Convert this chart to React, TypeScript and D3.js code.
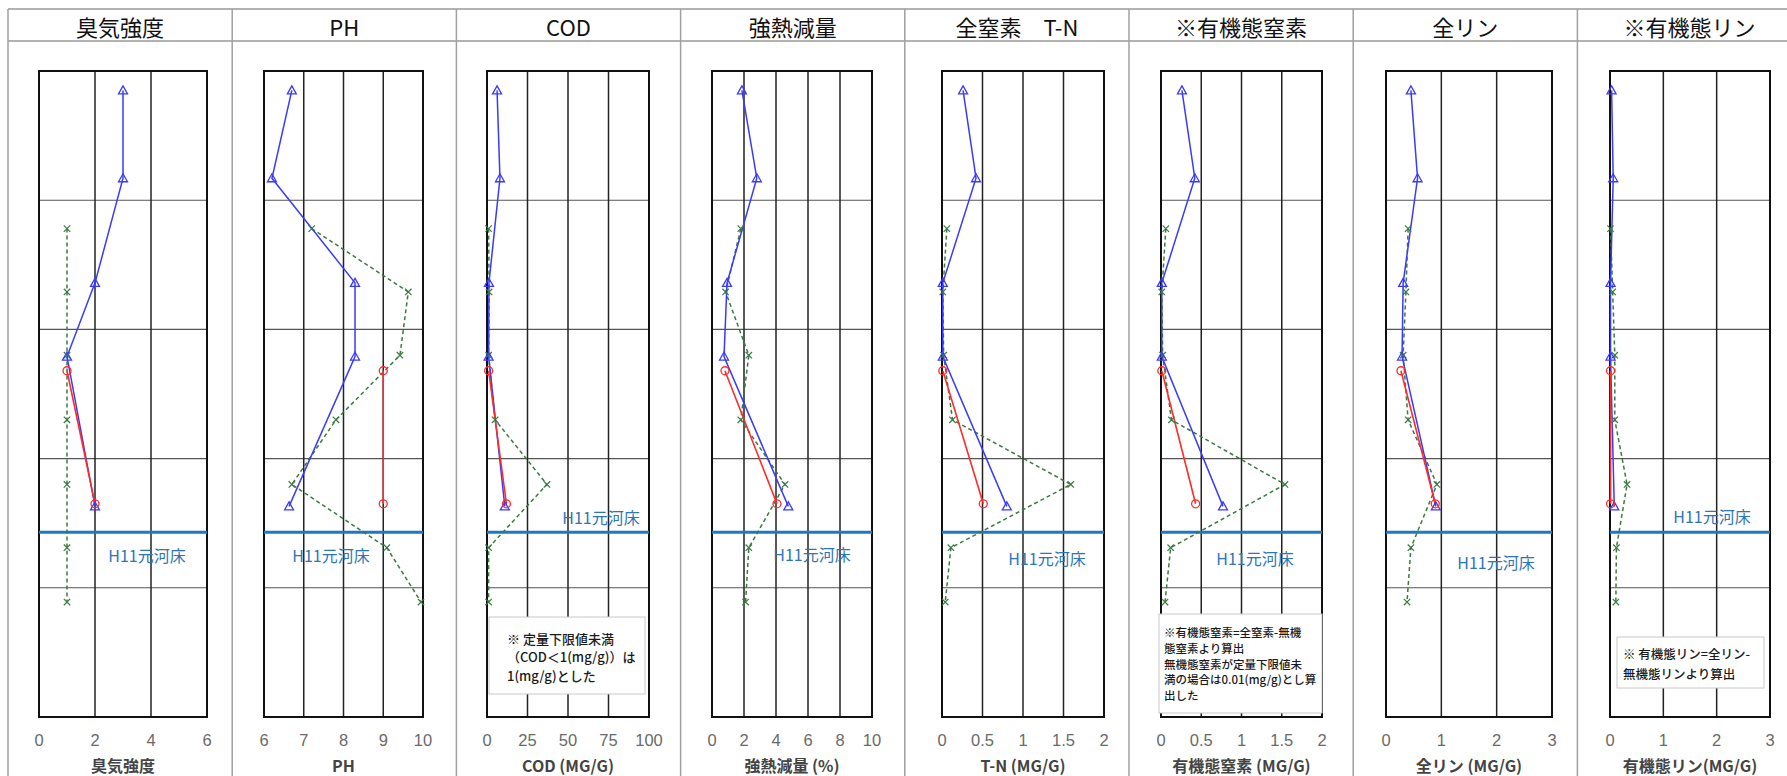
import React from 'react';
import * as d3 from 'd3';

const W = 1787;
const H = 776;

// depth levels (arbitrary depth units, 0 = top of plot)
const depthBlue = [0.15, 0.83, 1.64, 2.21, 3.37];
const depthRed = [2.32, 3.35];
const depthGreen = [1.22, 1.71, 2.2, 2.7, 3.2, 3.69, 4.11];
const depthRiverbed = 3.57;
const depthGrid = [1, 2, 3, 4];

const panelTitles = ['臭気強度', 'PH', 'COD', '強熱減量', '全窒素　T-N', '※有機態窒素', '全リン', '※有機態リン'];
const axisTitles = ['臭気強度', 'PH', 'COD (MG/G)', '強熱減量 (%)', 'T-N (MG/G)', '有機態窒素 (MG/G)', '全リン (MG/G)', '有機態リン(MG/G)'];
const xTicks = [
  [0, 2, 4, 6],
  [6, 7, 8, 9, 10],
  [0, 25, 50, 75, 100],
  [0, 2, 4, 6, 8, 10],
  [0, 0.5, 1, 1.5, 2],
  [0, 0.5, 1, 1.5, 2],
  [0, 1, 2, 3],
  [0, 1, 2, 3],
];

const odorBlue = [3, 3, 2, 1, 2];
const odorRed = [1, 2];
const odorGreen = [1, 1, 1, 1, 1, 1, 1];
const phBlue = [6.7, 6.2, 8.29, 8.29, 6.63];
const phRed = [9.0, 9.0];
const phGreen = [7.2, 9.63, 9.42, 7.81, 6.7, 9.09, 9.95];
const codBlue = [6.2, 8.0, 1.2, 1, 11];
const codRed = [1, 12];
const codGreen = [1, 1.3, 1, 5, 37, 1, 1];
const ignBlue = [1.87, 2.8, 0.94, 0.75, 4.77];
const ignRed = [0.81, 4.06];
const ignGreen = [1.8, 0.85, 2.3, 1.8, 4.56, 2.3, 2.1];
const tnBlue = [0.26, 0.42, 0.01, 0.01, 0.8];
const tnRed = [0.01, 0.51];
const tnGreen = [0.06, 0.01, 0.02, 0.13, 1.59, 0.11, 0.04];
const onBlue = [0.26, 0.42, 0.01, 0.01, 0.77];
const onRed = [0.01, 0.43];
const onGreen = [0.06, 0.01, 0.02, 0.13, 1.54, 0.12, 0.05];
const tpBlue = [0.45, 0.57, 0.31, 0.29, 0.9];
const tpRed = [0.27, 0.89];
const tpGreen = [0.4, 0.36, 0.31, 0.4, 0.92, 0.45, 0.38];
const opBlue = [0.03, 0.06, 0.01, 0.01, 0.08];
const opRed = [0.01, 0.01];
const opGreen = [0.01, 0.05, 0.09, 0.09, 0.32, 0.12, 0.11];

const riverbedLabel = 'H11元河床';
const codNote = ['※ 定量下限値未満', '（COD＜1(mg/g)）は', '1(mg/g)とした'];
const onNote = ['※有機態窒素=全窒素-無機', '態窒素より算出', '無機態窒素が定量下限値未', '満の場合は0.01(mg/g)とし算', '出した'];
const opNote = ['※ 有機態リン=全リン-', '無機態リンより算出'];

const seriesBlue = [odorBlue, phBlue, codBlue, ignBlue, tnBlue, onBlue, tpBlue, opBlue];
const seriesRed = [odorRed, phRed, codRed, ignRed, tnRed, onRed, tpRed, opRed];
const seriesGreen = [odorGreen, phGreen, codGreen, ignGreen, tnGreen, onGreen, tpGreen, opGreen];
const notes: (string[] | null)[] = [null, null, codNote, null, null, onNote, null, opNote];

// layout
const panelX0 = 8;
const panelW = 224.2;
const headerTop = 9;
const headerBottom = 41;
const plotTop = 71;
const plotBottom = 717;
const plotX = [
  [39, 207],
  [264, 423],
  [487, 649],
  [712, 872],
  [942, 1104],
  [1161, 1322],
  [1386, 1552],
  [1610, 1770],
];
const labelPos = [
  [147, 555], [331, 555], [601, 517], [812, 554], [1047, 558], [1255, 558], [1496, 562], [1712, 516],
];
const noteBox = [
  null, null,
  { x: 489, y: 617, w: 156, h: 77, tx: 507, ty: 638, dy: 18.5, fs: 13 },
  null, null,
  { x: 1159, y: 614, w: 163, h: 99, tx: 1164, ty: 632, dy: 15.8, fs: 11.5 },
  null,
  { x: 1617, y: 637, w: 147, h: 51, tx: 1623, ty: 653, dy: 20, fs: 12.5 },
];

const BLUE = '#3a3aff';
const RED = '#ff2a2a';
const GREEN = '#3a7a40';
const RIVER = '#1f77c8';
const JP = '"Noto Sans CJK JP", "Noto Sans", sans-serif';

const yScale = d3.scaleLinear().domain([0, 5]).range([plotTop, plotBottom]);

function Triangle({ x, y }: { x: number; y: number }) {
  return <path d={`M${x},${y - 4.5}L${x + 4.5},${y + 3.5}L${x - 4.5},${y + 3.5}Z`} fill="none" stroke={BLUE} strokeWidth={1.3} />;
}
function Circle({ x, y }: { x: number; y: number }) {
  return <circle cx={x} cy={y} r={4} fill="none" stroke={RED} strokeWidth={1.3} />;
}
function Cross({ x, y }: { x: number; y: number }) {
  const s = 3.2;
  return <path d={`M${x - s},${y - s}L${x + s},${y + s}M${x - s},${y + s}L${x + s},${y - s}`} stroke={GREEN} strokeWidth={1.2} />;
}

function Panel({ i }: { i: number }) {
  const ticks = xTicks[i];
  const [x0, x1] = plotX[i];
  const x = d3.scaleLinear().domain([ticks[0], ticks[ticks.length - 1]]).range([x0, x1]);
  const line = d3.line<[number, number]>().x((d) => x(d[0])).y((d) => yScale(d[1]));
  const blue: [number, number][] = seriesBlue[i].map((v, k) => [v, depthBlue[k]]);
  const red: [number, number][] = seriesRed[i].map((v, k) => [v, depthRed[k]]);
  const green: [number, number][] = seriesGreen[i].map((v, k) => [v, depthGreen[k]]);
  const pLeft = panelX0 + i * panelW;
  const cx = pLeft + panelW / 2;
  const nb = noteBox[i];
  const nt = notes[i];
  const fmt = (v: number) => String(v);
  return (
    <g>
      {/* header title */}
      <text x={cx} y={(headerTop + headerBottom) / 2 + 1} textAnchor="middle" dominantBaseline="central" fontSize={22} fontFamily={JP} fill="#111">
        {panelTitles[i]}
      </text>
      {/* horizontal grid */}
      {depthGrid.map((d) => (
        <line key={'h' + d} x1={x0} x2={x1} y1={yScale(d)} y2={yScale(d)} stroke="#555" strokeWidth={1.1} />
      ))}
      {/* vertical grid */}
      {ticks.slice(1, -1).map((t) => (
        <line key={'v' + t} x1={x(t)} x2={x(t)} y1={plotTop} y2={plotBottom} stroke="#222" strokeWidth={1.5} />
      ))}
      <rect x={x0} y={plotTop} width={x1 - x0} height={plotBottom - plotTop} fill="none" stroke="#111" strokeWidth={2} />
      {/* riverbed line */}
      <line x1={x0} x2={x1} y1={yScale(depthRiverbed)} y2={yScale(depthRiverbed)} stroke={RIVER} strokeWidth={3} />
      <text x={labelPos[i][0]} y={labelPos[i][1]} textAnchor="middle" dominantBaseline="central" fontSize={16} fontFamily={JP} fill="#2e75b6">
        {riverbedLabel}
      </text>
      {/* series */}
      <path d={line(green) || ''} fill="none" stroke={GREEN} strokeWidth={1.5} strokeDasharray="4,3" />
      <path d={line(blue) || ''} fill="none" stroke={BLUE} strokeWidth={1.5} />
      <path d={line(red) || ''} fill="none" stroke={RED} strokeWidth={1.6} />
      {green.map((d, k) => <Cross key={'g' + k} x={x(d[0])} y={yScale(d[1])} />)}
      {blue.map((d, k) => <Triangle key={'b' + k} x={x(d[0])} y={yScale(d[1])} />)}
      {red.map((d, k) => <Circle key={'r' + k} x={x(d[0])} y={yScale(d[1])} />)}
      {/* note */}
      {nb && nt && (
        <g>
          <rect x={nb.x} y={nb.y} width={nb.w} height={nb.h} fill="#fff" stroke="#c8c8c8" strokeWidth={1} />
          {nt.map((s, k) => (
            <text key={k} x={nb.tx} y={nb.ty + k * nb.dy} dominantBaseline="central" fontSize={nb.fs} fontWeight={500} fontFamily={JP} fill="#1a1a1a">
              {s}
            </text>
          ))}
        </g>
      )}
      {/* tick labels */}
      {ticks.map((t) => (
        <text key={'t' + t} x={x(t)} y={740} textAnchor="middle" dominantBaseline="central" fontSize={16.5} fontFamily="'Liberation Sans', Arial, sans-serif" fill="#6a6a6a">
          {fmt(t)}
        </text>
      ))}
      <text x={(x0 + x1) / 2} y={765} textAnchor="middle" dominantBaseline="central" fontSize={16} fontWeight="bold" fontFamily={JP} fill="#444">
        {axisTitles[i]}
      </text>
    </g>
  );
}

export default function App() {
  const idx = d3.range(8);
  return (
    <svg width={W} height={H} style={{ position: 'absolute', left: 0, top: 0, background: '#fff' }}>
      <rect x={0} y={0} width={W} height={H} fill="#fff" />
      {/* table frame */}
      <line x1={panelX0} x2={W} y1={headerTop} y2={headerTop} stroke="#999" strokeWidth={1.5} />
      <line x1={panelX0} x2={W} y1={headerBottom} y2={headerBottom} stroke="#999" strokeWidth={1.5} />
      {d3.range(9).map((k) => (
        <line key={k} x1={panelX0 + k * panelW} x2={panelX0 + k * panelW} y1={headerTop} y2={H} stroke="#a0a0a0" strokeWidth={1.5} />
      ))}
      {idx.map((i) => <Panel key={i} i={i} />)}
    </svg>
  );
}
